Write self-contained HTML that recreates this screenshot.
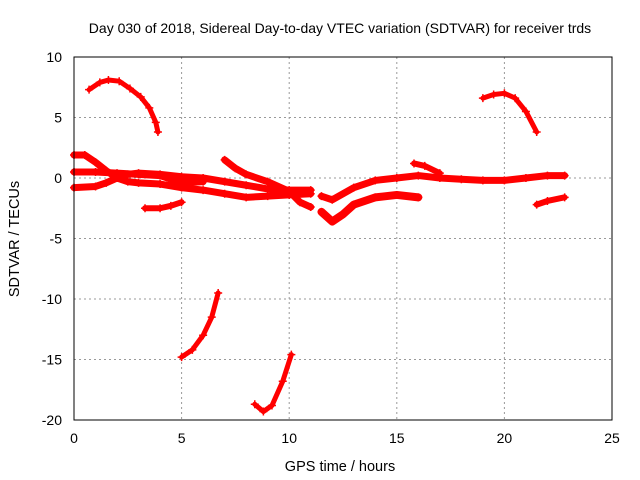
<!DOCTYPE html>
<html><head><meta charset="utf-8"><style>
body{margin:0;background:#fff}
svg{display:block;font-family:"Liberation Sans",sans-serif}
</style></head><body>
<svg id="chart" width="640" height="480">
<text x="340" y="33" font-size="14" text-anchor="middle">Day 030 of 2018, Sidereal Day-to-day VTEC variation (SDTVAR) for receiver trds</text>
<text x="340" y="471" font-size="14.5" text-anchor="middle">GPS time / hours</text>
<text transform="translate(19,239) rotate(-90)" font-size="14.5" text-anchor="middle">SDTVAR / TECUs</text>
<g id="grid"></g><g id="series"></g>
<rect x="74" y="57" width="538" height="363" fill="none" stroke="#000" stroke-width="1"/>
</svg>
<script>
const xTicks=[0,5,10,15,20,25];
const yTicks=[10,5,0,-5,-10,-15,-20];
const seg1=[[0.7,7.3],[1.2,7.9],[1.6,8.1],[2.1,8.0],[2.6,7.4],[3.1,6.7],[3.5,5.8],[3.8,4.6],[3.9,3.8]];
const seg2=[[19,6.6],[19.5,6.9],[20,7.0],[20.5,6.6],[21,5.5],[21.5,3.8]];
const seg3=[[5,-14.8],[5.5,-14.2],[6,-13],[6.4,-11.5],[6.7,-9.5]];
const seg4=[[8.4,-18.7],[8.8,-19.3],[9.2,-18.8],[9.7,-16.8],[10.1,-14.6]];
const seg5=[[3.3,-2.5],[4,-2.5],[4.5,-2.3],[5,-2.0]];
const seg6=[[21.5,-2.2],[22,-1.9],[22.8,-1.6]];
const seg7=[[0,-0.8],[1,-0.7],[1.5,-0.4],[2,0],[2.5,0.3],[3,0.4],[4,0.3],[5,0.1],[6,0],[7,-0.3],[8,-0.6],[9,-0.9],[10,-1.0],[11,-1.0]];
const seg8=[[0,1.9],[0.5,1.9],[1,1.3],[1.5,0.6],[2,0],[2.5,-0.3],[3,-0.4],[4,-0.5],[5,-0.8],[6,-1.0],[7,-1.3],[8,-1.6],[9,-1.5],[10,-1.4],[11,-1.3]];
const seg9=[[0,0.5],[1,0.5],[2,0.4],[3,0.3],[4,0.2],[5,-0.4],[6,-0.3]];
const seg10=[[7,1.5],[7.5,0.8],[8,0.3],[9,-0.3],[10,-1.1],[10.5,-2],[11,-2.4]];
const seg11=[[11.5,-2.8],[12,-3.6],[12.5,-3.0],[13,-2.2],[14,-1.6],[15,-1.4],[16,-1.6]];
const seg12=[[11.5,-1.5],[12,-1.8],[13,-0.8],[14,-0.2],[15,0],[16,0.2],[17,0],[18,-0.1],[19,-0.2],[20,-0.2],[21,0],[22,0.2],[22.8,0.2]];
const seg13=[[15.8,1.2],[16.3,1.0],[17,0.4]];
const allSegs=[seg1,seg2,seg3,seg4,seg5,seg6,seg7,seg8,seg9,seg10,seg11,seg12,seg13];
const widths=[5,5,5,5,6,6,7,7,7,7,8,7,6];
const X=v=>74+v*(538/25), Y=v=>178-v*(363/30);
const NS="http://www.w3.org/2000/svg";
const grid=document.getElementById('grid'), ser=document.getElementById('series');
function mk(t,a,p){const e=document.createElementNS(NS,t);for(const k in a)e.setAttribute(k,a[k]);p.appendChild(e);return e;}
xTicks.forEach(t=>{
 if(t>0&&t<25){const l=mk('line',{x1:X(t),x2:X(t),y1:57,y2:420,stroke:'#999','stroke-dasharray':'2,3'},grid);
 
 }
 const tx=mk('text',{x:X(t),y:443,'font-size':14,'text-anchor':'middle'},grid);tx.textContent=t;
 
 
});
yTicks.forEach(t=>{
 if(t<10&&t>-20){const l=mk('line',{x1:74,x2:612,y1:Y(t),y2:Y(t),stroke:'#999','stroke-dasharray':'2,3'},grid);
 
 }
 const tx=mk('text',{x:62,y:Y(t)+5,'font-size':14,'text-anchor':'end'},grid);tx.textContent=t;
 
 
});
allSegs.forEach((s,i)=>{
 const p=mk('polyline',{points:s.map(d=>X(d[0])+','+Y(d[1])).join(' '),fill:'none',stroke:'#f00','stroke-width':widths[i],'stroke-linejoin':'round','stroke-linecap':'round'},ser);
 
 
 s.forEach(d=>{const m=mk('path',{d:`M${X(d[0])-4},${Y(d[1])}h8M${X(d[0])},${Y(d[1])-4}v8`,stroke:'#f00','stroke-width':1.5},ser);
  
  });
});
</script>
</body></html>
